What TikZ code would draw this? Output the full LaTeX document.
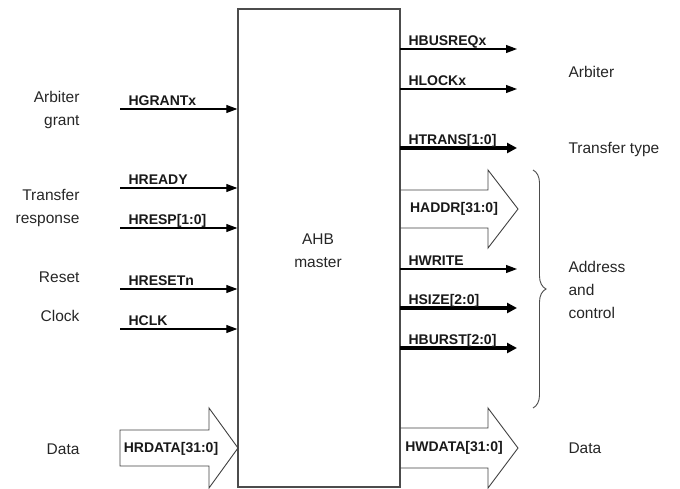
\documentclass[tikz,border=0pt]{standalone}
\usepackage{fontspec}
\setmainfont{Liberation Sans}
\usetikzlibrary{arrows.meta, decorations.pathreplacing}

\begin{document}
\begin{tikzpicture}[x=1pt, y=-1pt,
    sig/.style={line width=1.1pt, -{Triangle[length=11pt,width=8pt]}},
    fatsig/.style={line width=3.4pt, -{Triangle[length=10pt,width=10pt]}},
    bus/.style={draw=black!75, line width=0.9pt},
    sigtext/.style={anchor=base west, xshift=5pt, yshift=4pt, text=black!90,
      font=\fontsize{14}{14}\selectfont\bfseries},
    bustext/.style={text=black!90, font=\fontsize{14}{14}\selectfont\bfseries},
    desc/.style={text=black!85, font=\fontsize{15.5}{23}\selectfont}]
  \useasboundingbox (0,0) rectangle (680,488);
  \node[draw=black!70, line width=1.4pt, minimum width=162pt,
    minimum height=478pt, inner sep=0pt] (master) at (319,248) {};
  \node[desc, align=center] (mastertxt) at (318,251) {AHB\\master};
  % inputs
  \coordinate (hgrant) at (120,109);
  \coordinate (hready) at (120,188);
  \coordinate (hresp) at (120,228);
  \coordinate (hreset) at (120,289);
  \coordinate (hclk) at (120,329);
  \coordinate (hrdata) at (120,448);
  \draw[sig] (hgrant) -- (hgrant -| master.west);
  \draw[sig] (hready) -- (hready -| master.west);
  \draw[sig] (hresp) -- (hresp -| master.west);
  \draw[sig] (hreset) -- (hreset -| master.west);
  \draw[sig] (hclk) -- (hclk -| master.west);
  \draw[bus] (hrdata) ++(0,-18) -- ++(89,0) -- ++(0,-22) -- ++(29,40)
    -- ++(-29,40) -- ++(0,-22) -- ++(-89,0) -- cycle;
  \node[sigtext] at (hgrant) {HGRANTx};
  \node[sigtext] at (hready) {HREADY};
  \node[sigtext] at (hresp) {HRESP[1:0]};
  \node[sigtext] at (hreset) {HRESETn};
  \node[sigtext] at (hclk) {HCLK};
  \node[bustext] (hrdatatxt) at (171,449) {HRDATA[31:0]};
  % outputs
  \coordinate (hbusreq) at (400,49);
  \coordinate (hlock) at (400,89);
  \coordinate (htrans) at (400,148);
  \coordinate (haddr) at (400,209);
  \coordinate (hwrite) at (400,269);
  \coordinate (hsize) at (400,308);
  \coordinate (hburst) at (400,348);
  \coordinate (hwdata) at (400,448);
  \draw[sig] (hbusreq) -- ++(117,0);
  \draw[sig] (hlock) -- ++(117,0);
  \draw[fatsig] (htrans) -- ++(117,0);
  \draw[bus] (haddr) ++(0,-19) -- ++(88,0) -- ++(0,-20) -- ++(30,39)
    -- ++(-30,39) -- ++(0,-20) -- ++(-88,0);
  \draw[sig] (hwrite) -- ++(117,0);
  \draw[fatsig] (hsize) -- ++(117,0);
  \draw[fatsig] (hburst) -- ++(117,0);
  \draw[bus] (hwdata) ++(0,-20) -- ++(88,0) -- ++(0,-20) -- ++(30,40)
    -- ++(-30,40) -- ++(0,-20) -- ++(-88,0);
  \node[sigtext] at (hbusreq) {HBUSREQx};
  \node[sigtext] at (hlock) {HLOCKx};
  \node[sigtext] at (htrans) {HTRANS[1:0]};
  \node[bustext] (haddrtxt) at (454,209) {HADDR[31:0]};
  \node[sigtext] at (hwrite) {HWRITE};
  \node[sigtext] at (hsize) {HSIZE[2:0]};
  \node[sigtext] at (hburst) {HBURST[2:0]};
  \node[bustext] (hwdatatxt) at (454,448) {HWDATA[31:0]};
  % brace
  \coordinate (bracetop) at (533,170);
  \coordinate (bracebot) at (533,408);
  \draw[black!70, line width=0.9pt, decorate,
    decoration={brace, amplitude=13pt}] (bracetop) -- (bracebot);
  % descriptions
  \node[desc, align=right, anchor=east] (grantlbl) at (83,110) {Arbiter\\grant};
  \node[desc, align=right, anchor=east] (resplbl) at (83,208) {Transfer\\response};
  \node[desc, anchor=east] (resetlbl) at (83,277) {Reset};
  \node[desc, anchor=east] (clocklbl) at (83,316) {Clock};
  \node[desc, anchor=east] (rdatalbl) at (83,449) {Data};
  \node[desc, anchor=west] (arblbl) at (565,72) {Arbiter};
  \node[desc, anchor=west] (typelbl) at (565,149) {Transfer type};
  \node[desc, align=left, anchor=west] (addrlbl) at (565,290) {Address\\and\\control};
  \node[desc, anchor=west] (wdatalbl) at (565,448) {Data};
\end{tikzpicture}
\end{document}
